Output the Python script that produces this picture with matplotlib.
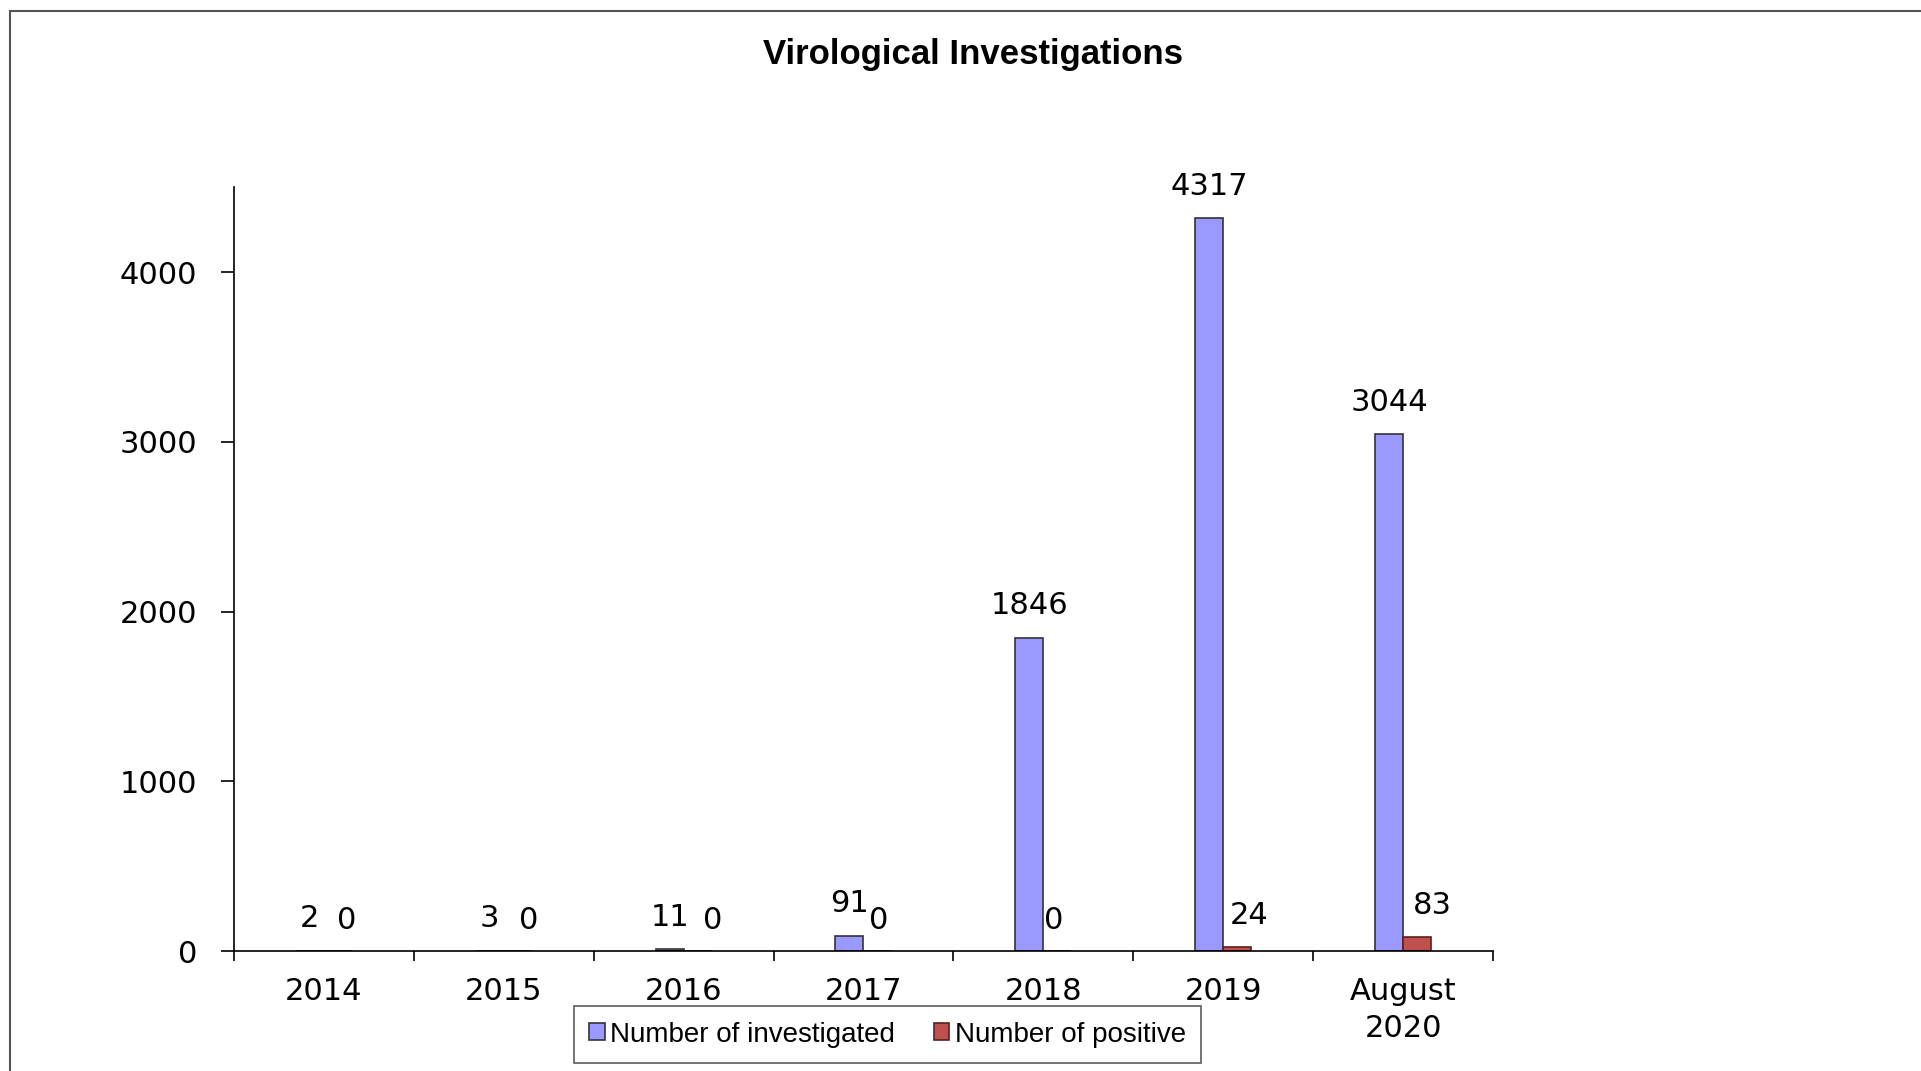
import matplotlib
matplotlib.use("Agg")
import matplotlib.pyplot as plt
import matplotlib.patches as mpatches
import numpy as np

# data
categories = ["2014", "2015", "2016", "2017", "2018", "2019", "August\n2020"]
investigated = [2, 3, 11, 91, 1846, 4317, 3044]
positive = [0, 0, 0, 0, 0, 24, 83]

# small label nudges (pixels) so the positive-count labels sit as in the original
pos_nudge = [9, 11, 15, 1, -4, 12, 15]

fig = plt.figure(figsize=(19.21, 10.71), dpi=100)
ax = fig.add_axes([0.1218, 0.112, 0.7772 - 0.1218, 0.825 - 0.112])

x = np.arange(len(categories)) + 0.5
w = 0.156

b1 = ax.bar(x - w / 2, investigated, w, color="#9999FF", edgecolor="#333333", lw=1.2,
            label="Number of investigated")
b2 = ax.bar(x + w / 2, positive, w, color="#C0504D", edgecolor="#5a2020", lw=1.2,
            label="Number of positive")

lab_font = dict(family="DejaVu Sans", fontsize=22, ha="center", va="center")
for xi, v in zip(x - w / 2, investigated):
    ax.annotate(str(v), (xi, v), xytext=(0, 32), textcoords="offset pixels", **lab_font)
for xi, v, dx in zip(x + w / 2, positive, pos_nudge):
    ax.annotate(str(v), (xi, v), xytext=(dx, 31), textcoords="offset pixels", **lab_font)

ax.set_xlim(0, 7)
ax.set_ylim(0, 4500)
ax.set_yticks([0, 1000, 2000, 3000, 4000])
ax.set_xticks(x)
ax.set_xticklabels(categories, fontsize=22, family="DejaVu Sans", linespacing=1.35)
ax.set_xticks(np.arange(0, 8), minor=True)
ax.tick_params(axis="x", which="major", length=0, pad=19)
ax.tick_params(axis="x", which="minor", length=7, width=1.2, direction="out")
ax.tick_params(axis="y", length=9.4, width=1.2, pad=17, labelsize=22)
for t in ax.get_yticklabels():
    t.set_family("DejaVu Sans")

for s in ["top", "right"]:
    ax.spines[s].set_visible(False)
ax.spines["left"].set_linewidth(1.2)
ax.spines["bottom"].set_linewidth(1.2)

fig.text(0.5065, 0.949, "Virological Investigations", ha="center", va="center",
         fontsize=25, fontweight="bold", family="Liberation Sans")

leg = fig.legend(handles=[b1, b2], loc="center", bbox_to_anchor=(0.462, 0.034),
                 ncol=2, frameon=True, fancybox=False,
                 handlelength=0.55, handleheight=0.55, handletextpad=0.2,
                 columnspacing=1.4, borderpad=0.55,
                 prop={"family": "Liberation Sans", "size": 20})
leg.get_frame().set_edgecolor("#333333")
leg.get_frame().set_linewidth(1.2)

# outer chart border (runs off the right and bottom of the image)
fig.patches.append(mpatches.Rectangle((0.0052, -0.2), 1.5, 0.2 + 0.9897,
                                      transform=fig.transFigure, fill=False,
                                      edgecolor="#555555", lw=1.5))

fig.savefig("out.png", dpi=100)
